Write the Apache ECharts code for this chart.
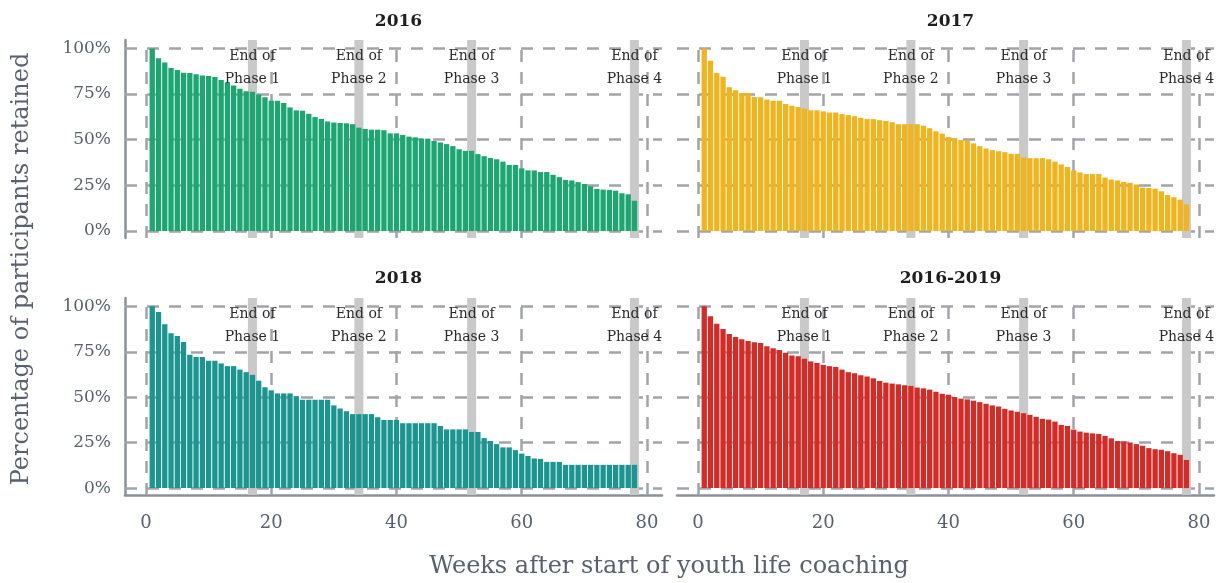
<!DOCTYPE html>
<html><head><meta charset="utf-8">
<script src="https://cdn.jsdelivr.net/npm/echarts@6/dist/echarts.min.js"></script>
<style>html,body{margin:0;padding:0;background:#fff}#c{width:1225px;height:583px}</style>
</head><body><div id="c"></div>
<script>
const weeks = [1,2,3,4,5,6,7,8,9,10,11,12,13,14,15,16,17,18,19,20,21,22,23,24,25,26,27,28,29,30,31,32,33,34,35,36,37,38,39,40,41,42,43,44,45,46,47,48,49,50,51,52,53,54,55,56,57,58,59,60,61,62,63,64,65,66,67,68,69,70,71,72,73,74,75,76,77,78];
const panelTitles = ['2016', '2017', '2018', '2016-2019'];
const retained2016 = [100,94.6,92.3,89.3,88.2,86.7,86.5,85.8,85.2,84.9,84.3,82.7,81.2,79.7,77.9,76.6,76.2,74.7,73.2,71.4,71.4,70.1,67.7,66.1,65.9,64.2,62.4,61.4,60.0,59.4,59.2,59.0,58.5,56.6,55.9,55.5,55.5,55.2,53.5,53.5,52.6,51.7,51.3,50.6,50.6,49.3,48.5,47.6,46.5,44.8,43.9,43.9,42.1,41.0,40.0,39.3,38.0,36.2,36.2,34.3,33.2,33.2,32.3,32.3,30.8,29.5,28.0,27.7,26.8,25.8,24.5,23.1,22.7,22.5,22.1,20.7,20.1,16.6];
const retained2017 = [100,93.2,86.5,84.5,78.8,77.1,75.6,75.6,73.4,73.2,72.0,71.4,71.4,69.6,68.6,67.9,67.0,66.1,66.1,65.5,64.9,64.9,64.0,63.5,62.9,62.0,61.3,61.3,60.7,60.3,59.6,58.5,58.5,58.5,58.5,57.7,56.3,54.6,53.3,51.5,50.9,49.8,49.6,48.0,46.5,45.2,44.3,43.7,43.2,42.3,42.3,40.2,39.9,39.9,39.9,39.3,38.0,36.5,35.1,33.2,32.1,31.2,31.2,31.2,29.3,28.2,27.7,26.9,26.4,25.5,23.8,23.6,23.2,21.8,19.7,18.5,17.2,14.6];
const retained2018 = [100,96.9,90.2,85.2,83.7,80.4,73.4,72.1,72.1,70.1,70.1,68.6,67.1,67.1,65.2,63.8,62.3,59.1,55.5,53.8,52.1,52.1,52.1,50.6,48.6,48.6,48.6,48.6,48.6,45.5,43.8,42.3,40.7,40.7,40.7,40.7,39.0,37.5,37.5,37.5,35.7,35.7,35.7,35.7,35.7,35.7,34.2,32.3,32.3,32.3,32.3,30.9,30.9,27.5,25.9,24.2,22.4,22.4,20.9,19.0,17.7,16.3,16.1,14.4,14.4,14.4,12.8,12.8,12.8,12.8,12.8,12.8,12.8,12.8,12.8,12.8,12.8,12.8];
const retained2016to2019 = [100,94.5,90.4,87.6,84.8,83.2,81.9,81.0,80.2,79.9,78.0,76.9,76.0,74.5,73.0,72.5,71.2,69.7,68.9,67.8,67.1,66.7,65.2,63.8,63.2,62.1,61.4,60.4,59.0,58.0,57.5,57.1,56.6,56.2,55.3,54.9,54.2,53.0,51.9,51.4,50.1,49.2,48.8,48.1,47.3,46.4,45.5,44.9,43.6,42.7,42.0,41.2,40.3,39.2,38.1,37.7,36.6,34.8,34.2,32.2,31.1,30.5,30.1,29.8,28.7,27.4,25.9,25.7,25.1,24.2,23.3,22.0,21.4,21.1,20.3,19.2,18.3,15.5];
const yTicks = [0, 25, 50, 75, 100];
const xTicks = [0, 20, 40, 60, 80];
const phaseWeeks = [17, 34, 52, 78];
const phaseLabels = ['End of\nPhase 1', 'End of\nPhase 2', 'End of\nPhase 3', 'End of\nPhase 4'];
const yTitle = 'Percentage of participants retained';
const xTitle = 'Weeks after start of youth life coaching';

const panelValues = [retained2016, retained2017, retained2018, retained2016to2019];
const barColors = ['#1ba672', '#f0b51d', '#1a9590', '#d42b27'];
const FONT = 'DejaVu Serif';
const GRIDC = '#a3a4ab';
const AXC = '#8b9099';
const TXT = '#58616d';

const grids = [
  {left: 125, top: 40, width: 537, height: 198},
  {left: 677, top: 40, width: 537, height: 198},
  {left: 125, top: 298, width: 537, height: 197},
  {left: 677, top: 298, width: 537, height: 197}
];

const xAxes = [], yAxes = [], series = [], titles = [];
for (let i = 0; i < 4; i++) {
  const bottom = i >= 2, left = i % 2 === 0;
  xAxes.push({
    gridIndex: i, type: 'value', min: -3.35, max: 82.4,
    splitLine: {show: false},
    axisLine: {show: bottom, onZero: false, lineStyle: {color: AXC, width: 2.5}},
    axisTick: {show: false},
    axisLabel: {show: bottom, customValues: xTicks, color: TXT, fontFamily: FONT, fontSize: 18, margin: 19}
  });
  yAxes.push({
    gridIndex: i, type: 'value', min: -3.8, max: 104.6,
    splitLine: {show: false},
    axisLine: {show: left, onZero: false, lineStyle: {color: AXC, width: 2.5}},
    axisTick: {show: false},
    axisLabel: {show: left, customValues: yTicks, formatter: v => v + '%', color: TXT, fontFamily: FONT, fontSize: 17, margin: 14}
  });
  const g = grids[i];
  titles.push({text: panelTitles[i], left: g.left + g.width / 2, top: i < 2 ? 8 : 265, textAlign: 'center',
    textStyle: {fontFamily: FONT, fontSize: 17, fontWeight: 'bold', color: '#1e1e1e'}});
  series.push({
    type: 'line', xAxisIndex: i, yAxisIndex: i, data: [], z: 1, silent: true,
    markLine: {
      silent: true, symbol: ['none', 'none'], animation: false, z: 1,
      label: {show: false},
      lineStyle: {type: [12, 10], color: GRIDC, width: 2.5},
      data: yTicks.map(v => ({yAxis: v})).concat(xTicks.map(v => ({xAxis: v})))
    }
  });
  series.push({
    type: 'line', xAxisIndex: i, yAxisIndex: i, data: [], z: 2, silent: true,
    markArea: {
      silent: true, animation: false, z: 2,
      itemStyle: {color: '#c9c9c9'},
      label: {show: true, position: 'insideTop', distance: 5, color: '#2b2b2b', fontFamily: FONT, fontSize: 14, lineHeight: 23},
      data: phaseWeeks.map((w, k) => [{xAxis: w - 0.72, name: phaseLabels[k]}, {xAxis: w + 0.72}])
    }
  });
  series.push({
    type: 'bar', xAxisIndex: i, yAxisIndex: i, z: 3, barWidth: 5.3,
    itemStyle: {color: barColors[i]},
    data: weeks.map((w, j) => [w, panelValues[i][j]])
  });
}

const chart = echarts.init(document.getElementById('c'));
chart.setOption({
  animation: false,
  backgroundColor: '#fff',
  title: titles,
  grid: grids,
  xAxis: xAxes,
  yAxis: yAxes,
  series: series,
  graphic: [
    {type: 'text', x: 22, y: 269, rotation: Math.PI / 2,
      style: {text: yTitle, fill: TXT, font: '24px "DejaVu Serif"', textAlign: 'center', textVerticalAlign: 'middle'}},
    {type: 'text', x: 669, y: 567,
      style: {text: xTitle, fill: TXT, font: '24px "DejaVu Serif"', textAlign: 'center', textVerticalAlign: 'middle'}}
  ]
});
</script>
</body></html>
